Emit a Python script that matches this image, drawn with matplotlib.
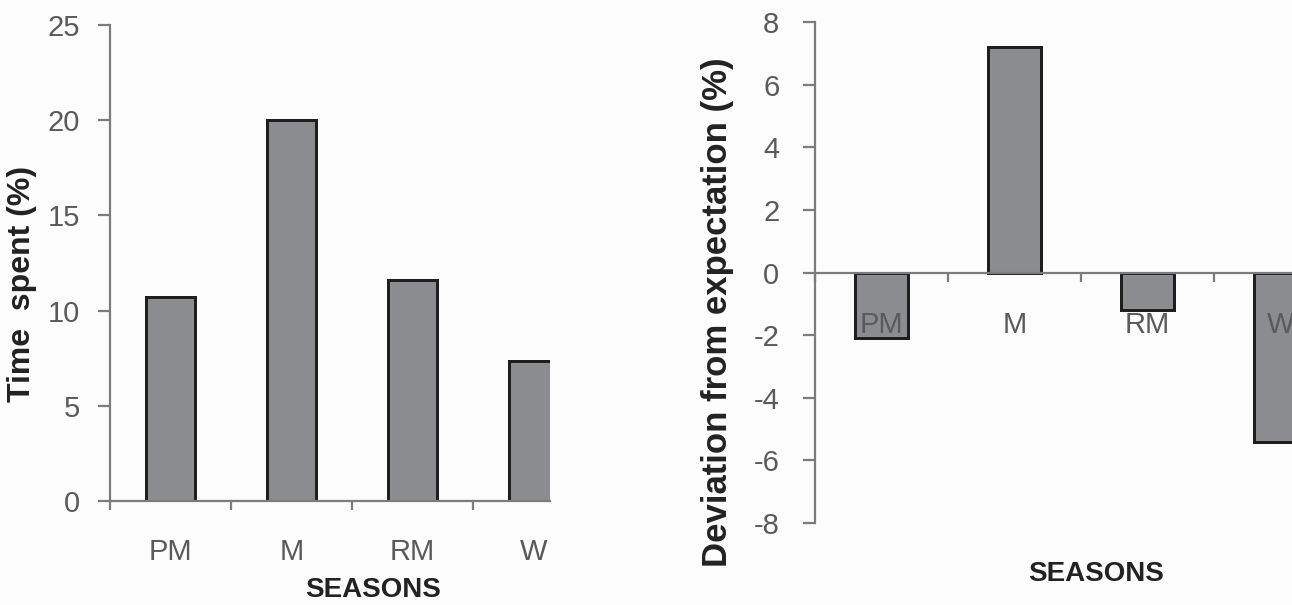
import matplotlib
matplotlib.use("Agg")
import matplotlib.pyplot as plt

plt.rcParams['font.family'] = ['Liberation Sans', 'DejaVu Sans']
plt.rcParams['axes.unicode_minus'] = False

seasons = ["PM", "M", "RM", "W"]
time_spent = [10.7, 20.0, 11.6, 7.35]
deviation = [-2.1, 7.2, -1.2, -5.4]
left_yticks = [0, 5, 10, 15, 20, 25]
right_yticks = [-8, -6, -4, -2, 0, 2, 4, 6, 8]

W, H = 1292, 605
fig = plt.figure(figsize=(W / 100, H / 100), dpi=100, facecolor='#fcfcfc')

bar_color = '#8b8c90'
edge_color = '#1e1e1e'
axis_color = '#7c7c7c'
tick_label_color = '#5a5a5a'
label_color = '#222222'
PX = 0.72  # points per pixel at dpi 100


def style_axis(ax):
    ax.set_facecolor('#fcfcfc')
    for s in ['top', 'right']:
        ax.spines[s].set_visible(False)
    for s in ['left', 'bottom']:
        ax.spines[s].set_color(axis_color)
        ax.spines[s].set_linewidth(1.6)
    ax.tick_params(axis='y', direction='out', length=12 * PX, width=1.6,
                   color=axis_color, labelcolor=tick_label_color,
                   labelsize=21, pad=13)
    ax.tick_params(axis='x', which='major', length=0,
                   labelcolor=tick_label_color, labelsize=21)
    ax.tick_params(axis='x', which='minor', direction='out', length=9 * PX,
                   width=1.6, color=axis_color)


# Left panel
ax1 = fig.add_axes([110 / W, 1 - 501 / H, 440 / W, 476 / H])
x = list(range(len(seasons)))
ax1.bar(x, time_spent, width=0.4, color=bar_color, edgecolor=edge_color,
        linewidth=3 * PX, clip_on=True)
ax1.set_xlim(-0.5, -0.5 + 440 / 121)
ax1.set_ylim(0, 25)
ax1.set_yticks(left_yticks)
ax1.set_xticks(x)
ax1.set_xticklabels(seasons)
ax1.set_xticks([-0.5, 0.5, 1.5, 2.5], minor=True)
style_axis(ax1)
ax1.tick_params(axis='x', which='major', pad=27)

# Right panel
ax2 = fig.add_axes([815 / W, 1 - 523 / H, 477 / W, 501 / H])
ax2.bar(x, deviation, width=0.4, color=bar_color, edgecolor=edge_color,
        linewidth=3 * PX, clip_on=True)
ax2.set_xlim(-0.5, -0.5 + 477 / 133)
ax2.set_ylim(-8, 8)
ax2.set_yticks(right_yticks)
ax2.set_xticks(x)
ax2.set_xticklabels(seasons)
ax2.set_xticks([-0.5, 0.5, 1.5, 2.5], minor=True)
style_axis(ax2)
ax2.spines['bottom'].set_position(('data', 0))
ax2.tick_params(axis='x', which='major', pad=28)
ax2.tick_params(axis='y', pad=17)
for lbl in ax2.get_xticklabels():
    lbl.set_zorder(5)

# Axis titles
fig.text(22 / W, 1 - 284 / H, "Time  spent (%)", rotation=90, ha='center',
         va='center', fontsize=23, fontweight='bold', color=label_color)
fig.text(373 / W, 1 - 590 / H, "SEASONS", ha='center', va='center',
         fontsize=20, fontweight='bold', color=label_color)
fig.text(717 / W, 1 - 312 / H, "Deviation from expectation (%)", rotation=90,
         ha='center', va='center', fontsize=25, fontweight='bold',
         color=label_color)
fig.text(1096 / W, 1 - 574 / H, "SEASONS", ha='center', va='center',
         fontsize=20, fontweight='bold', color=label_color)

fig.savefig("out.png", dpi=100, facecolor=fig.get_facecolor())
